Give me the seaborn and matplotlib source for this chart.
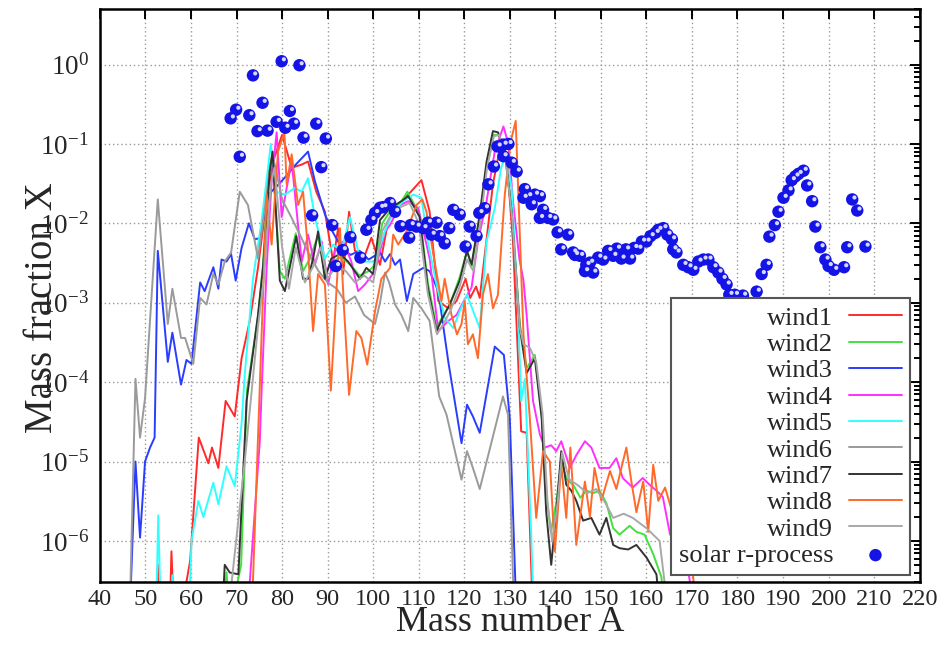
import matplotlib
matplotlib.use("Agg")
import matplotlib.pyplot as plt
import seaborn as sns
from matplotlib.ticker import LogLocator, MultipleLocator, NullFormatter
from matplotlib.transforms import ScaledTranslation

# mass number A and mass fraction X
wind1_A = [52.3, 52.7, 53.2, 55.3, 55.7, 56.3, 57.5, 59.8, 61.7, 63.8, 64.6, 66.0, 67.6, 69.6, 71.1, 72.9,
           74.7, 76.2, 78.0, 80.0, 82.1, 84.3, 85.7, 87.5, 89.4, 91.2, 92.3, 93.4, 94.7, 96.0, 98.2, 99.6,
           101.5, 103.3, 105.9, 107.7, 110.6, 112.4, 114.3, 116.5, 118.3, 120.3, 121.3, 122.6, 123.4,
           126.3, 128.1, 129.3, 130.7, 132.5, 133.7, 135.1]
wind1_X = [1e-7, 5e-7, 1e-7, 1e-7, 7.4e-7, 1e-7, 1e-7, 5.6e-7, 2e-5, 9.5e-6, 1.5e-5, 8.3e-6, 5.8e-5, 3.7e-5,
           2e-4, 5.9e-4, 2.75e-3, 1.3e-2, 6e-2, 1.3e-1, 5e-2, 5.5e-2, 6e-2, 2.5e-2, 1.4e-2, 3.3e-3, 8.7e-3,
           2.3e-3, 1.4e-2, 4.5e-3, 4e-3, 6.6e-3, 3e-3, 1.07e-2, 1.8e-2, 2.3e-2, 3.5e-2, 1.4e-2, 1.05e-3,
           8.5e-4, 1.05e-3, 2e-3, 1.15e-3, 1.6e-3, 1.15e-3, 3.1e-2, 1.07e-1, 6.6e-2, 5.9e-3, 2.4e-5, 2.3e-5,
           1e-7]

wind2_A = [66.8, 67.8, 68.5, 71.0, 72.3, 74.7, 75.8, 77.0, 77.8, 79.5, 80.6, 83.0, 84.6, 86.0, 87.9, 89.4,
           91.0, 93.0, 95.0, 97.0, 99.0, 100.4, 102.0, 104.0, 106.2, 107.5, 110.2, 112.0, 113.9, 115.5,
           117.0, 119.0, 120.6, 121.6, 123.4, 124.9, 126.5, 127.6, 128.9, 130.4, 132.2, 133.7, 135.5, 137.0,
           138.0, 139.0, 140.2, 141.3, 142.5, 144.0, 145.5, 146.8, 148.3, 149.7, 151.2, 152.7, 154.1, 156.3,
           157.8, 159.6, 161.5, 163.3, 164.2]
wind2_X = [1e-7, 4e-7, 1e-7, 5e-7, 8e-5, 6.5e-4, 3e-3, 4.6e-2, 7e-2, 2.5e-3, 2e-3, 7.5e-3, 2.5e-3, 3.5e-3,
           7e-3, 2.3e-3, 3.3e-3, 3.8e-3, 3e-3, 2.2e-3, 2.5e-3, 3e-3, 1e-2, 1.5e-2, 1.9e-2, 2.5e-2, 1.3e-2,
           1.8e-3, 5e-4, 7e-4, 1e-3, 2.1e-3, 4.5e-3, 2.8e-3, 1.2e-2, 5e-2, 1.3e-1, 1.3e-1, 8e-2, 1.5e-2,
           5.5e-4, 1.5e-4, 2.2e-4, 4e-5, 4e-6, 1.3e-6, 3e-6, 1e-5, 6e-6, 5e-6, 3.5e-6, 4.3e-6, 4e-6, 4.3e-6,
           3e-6, 1.45e-6, 1.2e-6, 1.55e-6, 1.3e-6, 1.2e-6, 6.8e-7, 3.5e-7, 1e-7]

wind3_A = [46.5, 47.8, 48.8, 49.9, 51.0, 52.0, 52.7, 54.9, 55.9, 57.8, 59.0, 60.1, 62.0, 63.0, 64.9, 66.0,
           66.7, 67.8, 68.8, 69.8, 71.1, 72.7, 74.0, 75.1, 77.0, 79.0, 81.0, 83.0, 85.7, 87.2, 89.4, 91.0,
           93.0, 95.0, 97.0, 99.0, 101.5, 102.6, 103.7, 104.8, 105.9, 107.4, 108.8, 111.0, 112.4, 114.3,
           116.5, 119.4, 120.6, 121.9, 123.4, 126.7, 128.7, 130.0, 131.5]
wind3_X = [1e-7, 1e-5, 1.1e-6, 1e-5, 1.5e-5, 2e-5, 4.5e-3, 1.8e-4, 4.2e-4, 9.3e-5, 1.9e-4, 1.7e-4, 1.8e-3,
           1.4e-3, 2.8e-3, 1.5e-3, 3.5e-3, 3.3e-3, 4.1e-3, 1.9e-3, 4.9e-3, 1e-2, 6.3e-3, 6.5e-3, 2.3e-2,
           3e-2, 4e-2, 5.5e-2, 8e-2, 3.4e-2, 1.3e-2, 8e-3, 5e-3, 4e-3, 4.5e-3, 3.5e-3, 4.3e-3, 3.3e-3,
           4.1e-3, 3e-3, 3.5e-3, 1.05e-3, 2.3e-3, 2.75e-3, 2.5e-3, 1.4e-3, 1.8e-4, 1.7e-5, 5.2e-5, 3.7e-5,
           2.3e-5, 2.8e-4, 2.2e-4, 3.5e-5, 1e-7]

wind4_A = [72.3, 75.1, 75.5, 76.6, 77.7, 78.8, 79.9, 81.0, 82.1, 84.3, 85.7, 87.2, 88.7, 90.1, 91.6, 93.4,
           95.2, 96.7, 98.2, 100.4, 102.6, 103.7, 105.9, 107.7, 109.9, 112.4, 114.3, 116.5, 118.3, 119.7,
           121.6, 123.0, 124.9, 126.7, 128.6, 129.7, 130.7, 132.1, 133.0, 133.7, 135.1, 136.6, 137.7, 139.1,
           140.2, 141.3, 143.2, 144.6, 146.5, 147.9, 149.7, 151.9, 153.4, 154.8, 157.0, 159.2, 160.7, 162.2,
           163.6, 165.2, 167.0, 169.0, 170.8]
wind4_X = [1e-7, 1.8e-5, 7.8e-5, 2.75e-3, 3.4e-2, 1.4e-1, 1.2e-2, 2.8e-2, 6e-2, 3.3e-3, 7.2e-3, 3e-3,
           5.9e-3, 1.7e-3, 4.5e-3, 5.9e-3, 3.3e-3, 1.4e-3, 1.7e-3, 2.5e-3, 7.9e-3, 9.5e-3, 1.7e-2, 1.9e-2,
           1.55e-2, 3.6e-3, 4.4e-4, 5.9e-4, 7e-4, 1e-3, 1.55e-3, 5.9e-3, 1.9e-2, 8.1e-2, 1.66e-1, 1e-1,
           1.9e-2, 3.6e-3, 1.9e-3, 7e-4, 5.8e-5, 2.2e-5, 1.5e-5, 1.6e-5, 1.35e-5, 1.8e-5, 8.3e-6, 1.2e-5,
           1.8e-5, 1.5e-5, 8.3e-6, 8.3e-6, 1.1e-5, 6.2e-6, 4.7e-6, 6.2e-6, 5.1e-6, 4.3e-6, 3.6e-6, 1.2e-6,
           1e-6, 5e-7, 1e-7]

wind5_A = [52.3, 52.8, 53.4, 55.5, 55.9, 56.5, 59.5, 60.1, 61.6, 62.7, 64.9, 66.0, 67.8, 69.6, 71.1, 71.8,
           73.6, 75.5, 77.0, 77.5, 78.8, 80.6, 82.8, 84.3, 85.7, 87.2, 89.4, 91.2, 93.0, 94.9, 96.7, 98.2,
           100.4, 102.6, 104.4, 106.6, 108.8, 110.6, 112.0, 113.9, 115.7, 117.6, 119.0, 120.6, 121.9, 123.4,
           124.9, 126.7, 128.1, 129.1, 130.4, 131.8, 132.5, 133.3, 134.7, 135.3]
wind5_X = [1e-7, 2.1e-6, 1e-7, 1e-7, 3.7e-7, 1e-7, 1e-7, 1e-6, 3.2e-6, 2e-6, 5.4e-6, 2.9e-6, 8.7e-6, 4.9e-6,
           3e-5, 1.26e-4, 2e-3, 1.07e-2, 5.5e-2, 1e-1, 2.5e-2, 2.3e-2, 2.8e-2, 2.5e-2, 3.7e-2, 1.2e-2,
           3.6e-3, 5.4e-3, 4.5e-3, 1.2e-2, 4.5e-3, 3.3e-3, 3.3e-3, 8e-3, 1.4e-2, 1.9e-2, 2.3e-2, 2.1e-2,
           5.9e-3, 1.7e-3, 6.5e-4, 4.8e-4, 7.8e-4, 1.26e-3, 8e-4, 4.8e-4, 5.9e-3, 1.55e-2, 5e-2, 7.4e-2,
           2.8e-2, 8.5e-4, 5.8e-5, 1.1e-4, 1.2e-6, 1e-7]

wind6_A = [46.5, 47.8, 48.8, 49.9, 52.7, 54.9, 55.9, 57.8, 58.7, 60.5, 62.0, 63.4, 64.9, 66.0, 67.4, 68.8,
           70.7, 72.5, 74.7, 77.3, 78.0, 80.0, 82.0, 84.0, 86.0, 88.0, 90.0, 92.0, 94.0, 96.0, 98.0, 100.4,
           101.5, 102.6, 103.5, 104.8, 106.2, 107.7, 108.8, 110.6, 112.4, 114.5, 116.1, 119.4, 120.6, 121.9,
           123.4, 128.5, 129.6, 131.0]
wind6_X = [1e-7, 1.1e-4, 2e-5, 6.3e-5, 2e-2, 5.4e-4, 1.5e-3, 3.6e-4, 3.6e-4, 1.7e-4, 1.15e-3, 9.5e-4, 2.3e-3,
           1.7e-3, 3.3e-3, 4.3e-3, 2.5e-2, 1.7e-2, 3.6e-3, 4.6e-2, 7e-2, 2e-2, 1.2e-2, 7e-3, 4e-3, 2.5e-3,
           1.8e-3, 1.5e-3, 1e-3, 1.2e-3, 7e-4, 5.4e-4, 1e-3, 2.4e-3, 1.8e-3, 9.5e-4, 7e-4, 4.4e-4, 1.15e-3,
           8.5e-4, 5.9e-4, 6.6e-5, 3.9e-5, 5.9e-6, 1.35e-5, 8.3e-6, 4.5e-6, 6.6e-5, 3.9e-5, 1e-7]

wind7_A = [66.8, 67.4, 68.5, 70.4, 72.2, 74.7, 75.8, 77.3, 77.9, 79.5, 80.6, 83.1, 84.6, 85.7, 86.8, 87.9,
           89.4, 90.8, 92.7, 94.5, 97.1, 98.5, 100.0, 101.5, 103.7, 106.2, 107.7, 110.2, 112.0, 113.9, 115.3,
           116.8, 119.0, 120.6, 121.6, 123.4, 124.9, 126.3, 127.4, 128.9, 130.4, 132.2, 133.7, 135.5, 137.0,
           138.0, 139.1, 140.2, 141.3, 142.4, 143.5, 144.6, 146.1, 147.9, 149.7, 151.2, 152.7, 154.1, 156.0,
           157.8, 160.0, 162.2, 163.2]
wind7_X = [1e-7, 5e-7, 4e-7, 3.8e-7, 5.8e-5, 7e-4, 2.75e-3, 4.6e-2, 8e-2, 1.9e-3, 1.4e-3, 6.9e-3, 2e-3,
           2e-3, 3.6e-3, 7.9e-3, 2e-3, 3.6e-3, 4.1e-3, 3.3e-3, 2e-3, 2.75e-3, 2.3e-3, 1.1e-2, 1.55e-2,
           1.9e-2, 2.2e-2, 1.2e-2, 1.55e-3, 4.4e-4, 6.5e-4, 9.5e-4, 1.9e-3, 4.5e-3, 3e-3, 1.3e-2, 6e-2,
           1.45e-1, 1.4e-1, 8.1e-2, 1.4e-2, 4.8e-4, 1.3e-4, 2e-4, 3.5e-5, 2.3e-6, 5e-7, 2.3e-6, 1.35e-5,
           5.1e-6, 4.3e-6, 3.2e-6, 1.8e-6, 1.95e-6, 1.2e-6, 1.95e-6, 8.9e-7, 8.1e-7, 7.8e-7, 8.9e-7, 6.2e-7,
           3.8e-7, 1e-7]

wind8_A = [73.3, 75.5, 76.6, 77.7, 79.1, 80.5, 81.0, 82.1, 83.5, 84.6, 85.7, 86.8, 87.9, 89.4, 90.7, 92.7,
           93.6, 94.7, 96.3, 97.4, 98.7, 100.4, 101.8, 103.7, 104.4, 105.5, 107.3, 109.5, 110.8, 111.7,
           113.2, 115.0, 115.7, 117.2, 118.4, 119.4, 120.1, 120.8, 121.9, 123.0, 124.1, 125.2, 126.3, 127.4,
           128.9, 130.2, 131.3, 132.2, 133.0, 134.4, 135.8, 137.3, 138.8, 139.9, 141.3, 142.4, 143.3, 144.6,
           146.5, 147.6, 148.6, 150.1, 152.0, 153.4, 154.5, 155.6, 156.7, 157.8, 159.3, 160.4, 161.5, 162.6,
           164.1, 166.0, 168.0, 170.0, 171.2]
wind8_X = [1e-7, 4e-4, 2.3e-2, 5.4e-3, 8e-2, 1.4e-1, 3.1e-2, 7.4e-2, 1.7e-2, 2.5e-2, 4.5e-3, 4.4e-4, 2.3e-3,
           1.7e-3, 7.8e-5, 8.7e-3, 8.5e-4, 6.9e-5, 4.4e-4, 3.6e-4, 1.66e-4, 7.8e-4, 2e-3, 2.75e-3, 7.2e-3,
           5.4e-3, 7.9e-3, 1.7e-2, 2e-2, 1.4e-2, 4.1e-3, 1.05e-3, 2e-3, 7e-4, 4e-4, 5.4e-4, 1.05e-3, 3e-4,
           4e-4, 2e-4, 1.26e-3, 2.3e-3, 8.5e-4, 1.26e-3, 2.3e-2, 1.07e-1, 1.95e-1, 7.2e-3, 4e-4, 3.5e-5,
           1.95e-6, 1.35e-5, 1e-5, 7.4e-7, 9.1e-6, 1.95e-6, 1.5e-5, 8.9e-7, 5.6e-6, 2e-6, 8.3e-6, 3.2e-6,
           7.6e-6, 4.5e-6, 8.3e-6, 1.5e-5, 5.6e-6, 2.3e-6, 5.6e-6, 1.3e-6, 9.1e-6, 3.2e-6, 4.7e-6, 2e-6,
           3e-6, 5e-7, 1e-7]

wind9_A = [68.0, 71.8, 74.7, 76.0, 77.5, 78.3, 80.0, 81.5, 83.0, 85.0, 87.0, 88.5, 90.0, 92.0, 94.0, 96.0,
           98.0, 100.0, 102.0, 104.0, 106.0, 108.0, 110.0, 112.0, 114.0, 115.5, 117.0, 119.0, 120.6, 122.0,
           123.5, 125.0, 126.5, 127.7, 129.0, 130.5, 132.2, 133.0, 134.4, 135.8, 137.2, 138.3, 139.3, 140.5,
           141.5, 143.0, 145.0, 147.0, 149.0, 151.0, 152.7, 155.0, 157.0, 160.0, 162.9, 165.0]
wind9_X = [1e-7, 1e-5, 5e-4, 2e-3, 3e-2, 5e-2, 5e-3, 1.5e-3, 5e-3, 1.8e-3, 3e-3, 5e-3, 2e-3, 3e-3, 2.5e-3,
           1.8e-3, 2.2e-3, 1.8e-3, 8e-3, 1.3e-2, 1.6e-2, 1.8e-2, 1e-2, 1.3e-3, 4e-4, 5.5e-4, 8e-4, 1.6e-3,
           3.5e-3, 2.5e-3, 1e-2, 5e-2, 1.25e-1, 1.3e-1, 7e-2, 1.2e-2, 4.8e-4, 3e-4, 2.7e-4, 1.8e-4, 4e-5,
           3e-6, 1e-6, 3e-6, 1.3e-5, 6e-6, 5e-6, 4e-6, 4.5e-6, 3e-6, 1.95e-6, 2.2e-6, 1.95e-6, 1.45e-6, 1e-6,
           1e-7]

solar_A = [68.7, 69.9, 70.7, 72.8, 73.6, 74.6, 75.7, 76.8, 78.8, 79.9, 80.7, 81.7, 82.6, 83.8, 84.7, 86.6,
           87.5, 88.6, 89.6, 91.0, 91.8, 93.3, 95.0, 97.2, 98.5, 99.6, 100.4, 101.5, 102.2, 103.7, 104.8,
           106.0, 107.9, 108.2, 109.5, 111.0, 112.0, 112.8, 113.9, 114.6, 115.7, 116.7, 117.6, 119.0, 120.3,
           121.2, 122.7, 123.3, 124.5, 125.3, 126.5, 127.3, 128.6, 128.6, 129.7, 130.4, 131.5, 133.0, 133.3,
           134.0, 134.8, 135.5, 136.6, 136.6, 137.3, 138.4, 139.5, 140.5, 141.3, 142.8, 143.9, 144.3, 145.4,
           146.5, 146.8, 147.6, 148.3, 149.4, 150.5, 151.6, 152.7, 153.5, 154.5, 155.5, 156.4, 157.3, 158.2,
           159.0, 160.0, 160.9, 162.0, 162.6, 163.7, 164.6, 165.6, 165.9, 166.6, 168.1, 169.2, 170.3, 171.4,
           172.5, 173.6, 174.7, 175.8, 176.7, 177.6, 178.2, 179.4, 181.2, 184.2, 185.3, 186.4, 187.0, 188.2,
           189.0, 190.1, 191.2, 191.9, 192.7, 193.4, 194.5, 195.3, 196.4, 197.1, 198.2, 199.3, 200.0, 201.2,
           203.4, 204.1, 205.2, 206.3, 208.1]
solar_X = [0.21, 0.27, 0.069, 0.23, 0.73, 0.145, 0.33, 0.147, 0.19, 1.1, 0.16, 0.26, 0.18, 0.98, 0.12,
           0.0126, 0.18, 0.051, 0.117, 0.0095, 0.0029, 0.0046, 0.0067, 0.0037, 0.0083, 0.011, 0.0135, 0.0157,
           0.016, 0.018, 0.014, 0.0092, 0.0066, 0.0095, 0.0091, 0.0087, 0.0102, 0.0072, 0.0102, 0.0069,
           0.0056, 0.0087, 0.0148, 0.0129, 0.0051, 0.0091, 0.0069, 0.0135, 0.0155, 0.031, 0.052, 0.093,
           0.098, 0.07, 0.10, 0.058, 0.045, 0.021, 0.027, 0.022, 0.0174, 0.023, 0.022, 0.0117, 0.0148,
           0.0117, 0.0112, 0.0077, 0.0047, 0.0072, 0.0043, 0.004, 0.0039, 0.0025, 0.003, 0.0032, 0.0024,
           0.0037, 0.0035, 0.0045, 0.0039, 0.0048, 0.0036, 0.0047, 0.0036, 0.0049, 0.0048, 0.0059, 0.0059,
           0.0069, 0.0076, 0.0083, 0.0087, 0.0072, 0.0063, 0.0047, 0.0043, 0.003, 0.0028, 0.0026, 0.0033,
           0.0035, 0.0035, 0.0028, 0.0024, 0.002, 0.0017, 0.00126, 0.00126, 0.00123, 0.00138, 0.0023, 0.003,
           0.0068, 0.0095, 0.014, 0.021, 0.026, 0.035, 0.039, 0.042, 0.046, 0.03, 0.019, 0.0091, 0.005,
           0.0035, 0.0029, 0.0026, 0.0028, 0.005, 0.02, 0.0145, 0.0051]

series = [
    ("wind1", wind1_A, wind1_X, "#ff2a2a"),
    ("wind2", wind2_A, wind2_X, "#44e040"),
    ("wind3", wind3_A, wind3_X, "#2a3cff"),
    ("wind4", wind4_A, wind4_X, "#ff30ff"),
    ("wind5", wind5_A, wind5_X, "#30ffff"),
    ("wind6", wind6_A, wind6_X, "#9a9a9a"),
    ("wind7", wind7_A, wind7_X, "#333333"),
    ("wind8", wind8_A, wind8_X, "#ff6a2a"),
    ("wind9", wind9_A, wind9_X, "#a8a8a8"),
]

sns.set_style("white")
plt.rcParams["font.family"] = ["Liberation Serif", "DejaVu Serif"]
plt.rcParams["mathtext.fontset"] = "custom"
plt.rcParams["mathtext.rm"] = "Liberation Serif"
plt.rcParams["mathtext.it"] = "Liberation Serif:italic"

fig, ax = plt.subplots(figsize=(9.52, 6.45), dpi=100)
fig.subplots_adjust(left=0.105, right=0.966, top=0.986, bottom=0.097)

for name, a, x, color in series:
    sns.lineplot(x=a, y=x, ax=ax, color=color, lw=1.4, label=name, sort=False, estimator=None)

sns.scatterplot(x=solar_A, y=solar_X, ax=ax, color="#1414e6", s=80, edgecolor="none",
                label="solar r-process", zorder=5)
# small specular spot on every sphere
sns.scatterplot(x=solar_A, y=solar_X, ax=ax, color="#d8d8ff", s=9, edgecolor="none",
                legend=False, zorder=6)
spot = ax.collections[-1]
spot.set_offset_transform(ax.transData + ScaledTranslation(1.6 / 72, 1.4 / 72, fig.dpi_scale_trans))

ax.set_yscale("log")
ax.set_xlim(40, 220)
ax.set_ylim(3e-7, 5)
ax.xaxis.set_major_locator(MultipleLocator(10))
ax.yaxis.set_major_locator(LogLocator(base=10, numticks=20))
ax.yaxis.set_minor_locator(LogLocator(base=10, subs=range(2, 10), numticks=20))
ax.yaxis.set_minor_formatter(NullFormatter())

ax.grid(True, which="major", color="#9a9a9a", linestyle=(0, (1, 2)), lw=1.0)
ax.tick_params(which="both", direction="in", top=True, right=True, width=1.4, color="black")
ax.tick_params(which="major", length=7)
ax.tick_params(which="minor", length=4)
ax.tick_params(axis="x", labelsize=17.5, pad=5)
ax.tick_params(axis="y", labelsize=19.5, pad=8)
for sp in ax.spines.values():
    sp.set_linewidth(1.8)
    sp.set_color("black")

ax.set_xlabel("Mass number A", fontsize=26, labelpad=-3)
ax.set_ylabel("Mass fraction X", fontsize=28, va="center")
ax.yaxis.set_label_coords(-0.07, 0.48)

leg = ax.legend(loc="lower right", bbox_to_anchor=(0.988, 0.013), borderaxespad=0, markerfirst=False,
                fontsize=19, frameon=True, fancybox=False, framealpha=1, edgecolor="#555555",
                labelspacing=0.11, handlelength=2.0, handletextpad=0.6, borderpad=0.3, scatterpoints=1)
leg.get_frame().set_linewidth(1.5)

fig.savefig("out.png", dpi=100)
